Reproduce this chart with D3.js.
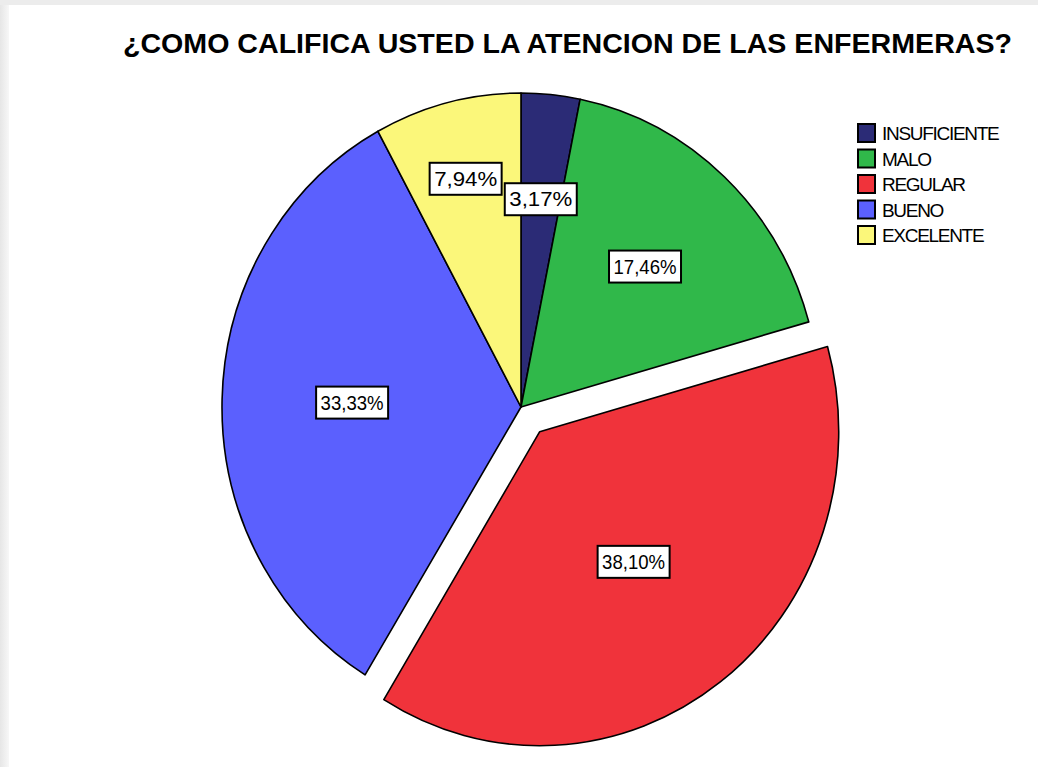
<!DOCTYPE html>
<html>
<head>
<meta charset="utf-8">
<script src="https://cdn.jsdelivr.net/npm/d3@7"></script>
<style>
  body { margin: 0; background: #ffffff; }
  text { font-family: "Liberation Sans", Arial, sans-serif; }
</style>
</head>
<body>
<div id="chart"></div>
<script>
// data
var categories = ["INSUFICIENTE", "MALO", "REGULAR", "BUENO", "EXCELENTE"];
var percents = [3.17, 17.46, 38.10, 33.33, 7.94];
var colors = ["#2b2b76", "#30b84a", "#f0333b", "#5b60fe", "#fbf77a"];
var exploded = ["REGULAR"];

var svgWidth = 1038;
var svgHeight = 767;

var cx = 521, cy = 407;
var rx = 299, ry = 314;
var explodeDist = 31;
// where the label boxes sit along each slice, as a share of the radius
var labelFrac = [0.665, 0.61, 0.52, 0.565, 0.75];

var svg = d3.select("#chart")
  .append("svg")
  .attr("width", svgWidth)
  .attr("height", svgHeight);

// page frame with soft grey edge top and left
var defs = svg.append("defs");
var gl = defs.append("linearGradient").attr("id", "edgeL");
gl.append("stop").attr("offset", "0%").attr("stop-color", "#e6e6e6");
gl.append("stop").attr("offset", "100%").attr("stop-color", "#f7f7f7");
svg.append("rect").attr("width", svgWidth).attr("height", svgHeight).attr("fill", "#ffffff");
svg.append("rect").attr("width", 9).attr("height", svgHeight).attr("fill", "url(#edgeL)");
svg.append("rect").attr("width", svgWidth).attr("height", 5).attr("fill", "#ececec");

// title
svg.append("text")
  .attr("x", 123)
  .attr("y", 53)
  .attr("textLength", 889)
  .attr("lengthAdjust", "spacingAndGlyphs")
  .style("font-size", "27.5px")
  .style("font-weight", "bold")
  .style("fill", "#000")
  .text("¿COMO CALIFICA USTED LA ATENCION DE LAS ENFERMERAS?");

var rows = categories.map(function(c, i) {
  return { name: c, value: percents[i], color: colors[i], frac: labelFrac[i] };
});

var pie = d3.pie()
  .sort(null)
  .value(d => d.value);

var arcs = pie(rows);

var arc = d3.arc()
  .innerRadius(0)
  .outerRadius(ry);

var sx = rx / ry;

function offset(d) {
  if (exploded.indexOf(d.data.name) < 0) return [0, 0];
  var a = (d.startAngle + d.endAngle) / 2;
  return [Math.sin(a) * explodeDist, -Math.cos(a) * explodeDist];
}

var pieGroup = svg.append("g")
  .attr("transform", `translate(${cx}, ${cy})`);

pieGroup.selectAll("path")
  .data(arcs)
  .enter()
  .append("path")
  .attr("d", arc)
  .attr("transform", d => {
    var o = offset(d);
    return `translate(${o[0]}, ${o[1]}) scale(${sx}, 1)`;
  })
  .attr("fill", d => d.data.color)
  .attr("stroke", "#000")
  .attr("stroke-width", 1.6)
  .attr("stroke-linejoin", "round")
  .attr("vector-effect", "non-scaling-stroke");

// value labels in white boxes
var fmt = v => v.toFixed(2).replace(".", ",") + "%";

var labels = pieGroup.selectAll("g.lbl")
  .data(arcs)
  .enter()
  .append("g")
  .attr("class", "lbl")
  .attr("transform", d => {
    var o = offset(d);
    var a = (d.startAngle + d.endAngle) / 2;
    var x = Math.sin(a) * rx * d.data.frac + o[0];
    var y = -Math.cos(a) * ry * d.data.frac + o[1];
    return `translate(${x}, ${y})`;
  });

labels.append("rect")
  .attr("x", -36)
  .attr("y", -16)
  .attr("width", 72)
  .attr("height", 32)
  .attr("fill", "#fff")
  .attr("stroke", "#000")
  .attr("stroke-width", 2);

labels.append("text")
  .attr("text-anchor", "middle")
  .attr("dy", "0.36em")
  .attr("textLength", 63)
  .attr("lengthAdjust", "spacingAndGlyphs")
  .style("font-size", "20px")
  .style("fill", "#000")
  .text(d => fmt(d.data.value));

// legend
var legend = svg.append("g")
  .attr("transform", "translate(858, 124)");

var items = legend.selectAll("g")
  .data(rows)
  .enter()
  .append("g")
  .attr("transform", (d, i) => `translate(0, ${i * 25.5})`);

items.append("rect")
  .attr("width", 17)
  .attr("height", 18)
  .attr("fill", d => d.color)
  .attr("stroke", "#000")
  .attr("stroke-width", 2);

items.append("text")
  .attr("x", 24)
  .attr("y", 16)
  .style("font-size", "19px")
  .style("letter-spacing", "-1.3px")
  .style("fill", "#000")
  .text(d => d.name);
</script>
</body>
</html>
